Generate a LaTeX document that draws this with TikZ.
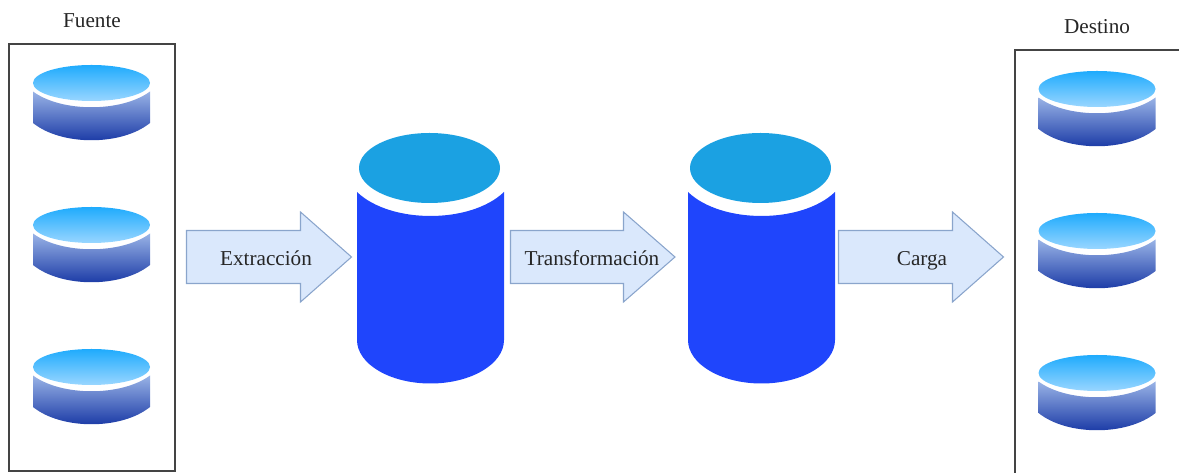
\documentclass[tikz,border=0pt]{standalone}
\usepackage{fontspec}
\setmainfont{Liberation Serif}
\definecolor{bigtop}{HTML}{1BA1E2}
\definecolor{bigbody}{HTML}{1F45FC}
\definecolor{smalltopA}{HTML}{1FABFD}
\definecolor{smalltopB}{HTML}{99D6FF}
\definecolor{smallbodyA}{HTML}{99B3E6}
\definecolor{smallbodyB}{HTML}{0F2FA0}
\definecolor{arrowfill}{HTML}{DAE8FC}
\definecolor{arrowline}{HTML}{8AA5CC}
\definecolor{framegray}{HTML}{444444}
\tikzset{
  lbl/.style={inner sep=0pt,anchor=base,font=\fontsize{15.9pt}{18pt}\selectfont,text=black!85},
  framebox/.style={draw=framegray,line width=0.8pt,fill=none},
  arrowshape/.style={draw=arrowline,fill=arrowfill,line width=0.8pt,line join=miter},
  smalltop/.style={top color=smalltopA,bottom color=smalltopB},
  smallbody/.style={top color=smallbodyA,bottom color=smallbodyB},
}
\newcommand{\smallcyl}[3]{% name, cx, top-ellipse cy
  \path[smallbody] (#2-58.5,#3+8.5) .. controls (#2-30,#3+29.5) and (#2+30,#3+29.5) .. (#2+58.5,#3+8.5)
     -- (#2+58.5,#3+40) .. controls (#2+30,#3+63) and (#2-30,#3+63) .. (#2-58.5,#3+40) -- cycle;
  \path[smalltop] (#2,#3) ellipse [x radius=58.5,y radius=18];
  \coordinate (#1) at (#2,#3);
}
\newcommand{\bigcyl}[3]{% name, cx, top-ellipse cy
  \path[fill=bigbody] (#2-73.5,#3+24) .. controls (#2-40,#3+56) and (#2+40,#3+56) .. (#2+73.5,#3+24)
     -- (#2+73.5,#3+172) arc [start angle=0,end angle=180,x radius=73.5,y radius=43.5] -- cycle;
  \path[fill=bigtop] (#2-1,#3) ellipse [x radius=70.5,y radius=35];
  \coordinate (#1) at (#2,#3);
}
\newcommand{\blockarrow}[4]{% name, x0, shaft end, tip
  \draw[arrowshape] (#2,230.5) -- (#3,230.5) -- (#3,212) -- (#4,257) -- (#3,302) -- (#3,283.5) -- (#2,283.5) -- cycle;
  \coordinate (#1) at (#2,257);
}
\begin{document}
\begin{tikzpicture}[x=0.75pt,y=-0.75pt]
\useasboundingbox (0,0) rectangle (1179,473);
\draw[framebox] (9,44) rectangle (175,471);
\draw[framebox] (1015,473) -- (1015,50) -- (1179,50);
\node[lbl] (fuente) at (92,27.5) {Fuente};
\node[lbl] (destino) at (1097,33.5) {Destino};
\smallcyl{s1}{91.5}{83}
\smallcyl{s2}{91.5}{225}
\smallcyl{s3}{91.5}{367}
\smallcyl{d1}{1097}{89}
\smallcyl{d2}{1097}{231}
\smallcyl{d3}{1097}{373}
\bigcyl{b1}{430.5}{168}
\bigcyl{b2}{761.5}{168}
\blockarrow{a1}{186.5}{300.5}{351.5}
\blockarrow{a2}{510.5}{623.5}{675}
\blockarrow{a3}{838.5}{952.5}{1003.5}
\node[lbl] (ext) at (266,265.5) {Extracción};
\node[lbl] (tra) at (592,265.5) {Transformación};
\node[lbl] (car) at (922,265.5) {Carga};
\end{tikzpicture}
\end{document}
